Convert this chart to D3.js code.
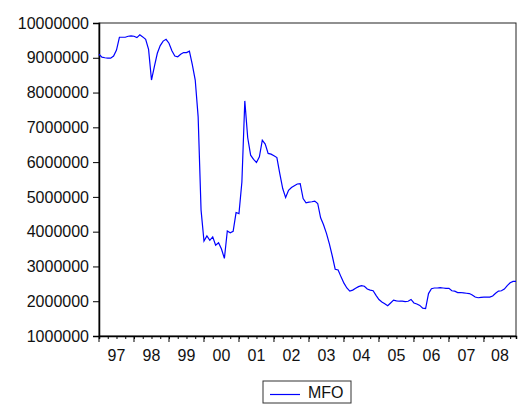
<!DOCTYPE html>
<html>
<head>
<meta charset="utf-8">
<script src="https://cdn.jsdelivr.net/npm/d3@7"></script>
<style>
  body { margin: 0; background: #fff; }
  text { font-family: "Liberation Sans", Arial, sans-serif; }
</style>
</head>
<body>
<div id="chart"></div>
<script>
// monthly MFO, 1997M01 - 2008M12 (millions)
var startYear = 1997;
var seriesName = "MFO";
var mfo = [
    9.10, 9.02, 9.00, 8.99, 8.99, 9.05, 9.22, 9.59, 9.59, 9.59, 9.62, 9.63,
    9.62, 9.58, 9.66, 9.60, 9.53, 9.24, 8.36, 8.75, 9.13, 9.35, 9.48, 9.53,
    9.42, 9.20, 9.05, 9.03, 9.10, 9.15, 9.15, 9.19, 8.80, 8.36, 7.30, 4.62,
    3.73, 3.88, 3.75, 3.85, 3.61, 3.68, 3.50, 3.23, 4.02, 3.97, 4.01, 4.55,
    4.52, 5.43, 7.76, 6.70, 6.20, 6.08, 5.99, 6.15, 6.63, 6.52, 6.25, 6.23,
    6.18, 6.13, 5.67, 5.24, 4.98, 5.19, 5.27, 5.32, 5.37, 5.38, 4.95, 4.83,
    4.85, 4.86, 4.88, 4.81, 4.40, 4.20, 3.95, 3.65, 3.30, 2.92, 2.90, 2.70,
    2.52, 2.38, 2.29, 2.32, 2.37, 2.42, 2.45, 2.43, 2.35, 2.32, 2.30, 2.17,
    2.05, 1.98, 1.93, 1.87, 1.95, 2.03, 2.01, 2.00, 2.00, 1.99, 2.00, 2.05,
    1.95, 1.92, 1.88, 1.80, 1.79, 2.22, 2.36, 2.38, 2.38, 2.39, 2.38, 2.37,
    2.37, 2.30, 2.29, 2.25, 2.25, 2.24, 2.23, 2.22, 2.18, 2.12, 2.10, 2.11,
    2.12, 2.12, 2.12, 2.15, 2.23, 2.29, 2.30, 2.35, 2.45, 2.53, 2.57, 2.57
].map(function(v) { return v * 1e6; });
var yTicks = [1000000, 2000000, 3000000, 4000000, 5000000,
    6000000, 7000000, 8000000, 9000000, 10000000];
var yearLabels = ["97", "98", "99", "00", "01", "02", "03", "04", "05", "06", "07", "08"];

var margin = {top: 23, right: 2, bottom: 76, left: 99};
var width = 518 - margin.left - margin.right,
    height = 412 - margin.top - margin.bottom;

var svg = d3.select("#chart").append("svg")
    .attr("width", 518)
    .attr("height", 412);

var g = svg.append("g")
    .attr("transform", "translate(" + margin.left + "," + margin.top + ")");

var x = d3.scaleLinear()
    .domain([0, mfo.length - 1])
    .range([0, width]);

var y = d3.scaleLinear()
    .domain([1000000, 10000000])
    .range([height, 0]);

// frame (top and right)
g.append("rect")
    .attr("x", 0).attr("y", 0)
    .attr("width", width).attr("height", height)
    .attr("fill", "none")
    .attr("stroke", "#222")
    .attr("stroke-width", 1);

// y axis
var yAxis = d3.axisLeft(y)
    .tickValues(yTicks)
    .tickSize(6)
    .tickPadding(4)
    .tickFormat(d3.format("d"));

var yG = g.append("g").call(yAxis);
yG.select(".domain").attr("stroke", "#000").attr("stroke-width", 1.5);
yG.selectAll("text").attr("font-size", "16px").attr("fill", "#111")
    .attr("font-family", "Liberation Sans, Arial, sans-serif");

// x axis: quarterly minor ticks, yearly major ticks
var quarters = d3.range(0, mfo.length, 3);
var xAxis = d3.axisBottom(x)
    .tickValues(quarters)
    .tickSize(3)
    .tickFormat("");

var xG = g.append("g")
    .attr("transform", "translate(0," + height + ")")
    .call(xAxis);
xG.select(".domain").attr("stroke", "#000").attr("stroke-width", 1.5);

var yearStarts = d3.range(0, mfo.length, 12);
xG.selectAll("line.major")
    .data(yearStarts)
    .enter()
    .append("line")
    .attr("class", "major")
    .attr("x1", function(d) { return x(d); })
    .attr("x2", function(d) { return x(d); })
    .attr("y1", 0)
    .attr("y2", 6)
    .attr("stroke", "#000");

xG.selectAll("text.year")
    .data(yearLabels)
    .enter()
    .append("text")
    .attr("class", "year")
    .attr("x", function(d, i) { return (x(i * 12) + x(Math.min(i * 12 + 12, mfo.length - 1) )) / 2; })
    .attr("y", 25)
    .attr("text-anchor", "middle")
    .attr("font-size", "16px")
    .attr("fill", "#111")
    .text(function(d) { return d; });

// series line
var line = d3.line()
    .x(function(d, i) { return x(i); })
    .y(function(d) { return y(d); });

g.append("path")
    .datum(mfo)
    .attr("d", line)
    .attr("fill", "none")
    .attr("stroke", "#0000ff")
    .attr("stroke-width", 1.2);

// legend
var legend = svg.append("g")
    .attr("transform", "translate(263,381)");

legend.append("rect")
    .attr("width", 88)
    .attr("height", 22)
    .attr("fill", "#fff")
    .attr("stroke", "#333")
    .attr("stroke-width", 1);

legend.append("line")
    .attr("x1", 7).attr("x2", 37)
    .attr("y1", 13.5).attr("y2", 13.5)
    .attr("stroke", "#0000ff")
    .attr("stroke-width", 1.2);

legend.append("text")
    .attr("x", 45)
    .attr("y", 17)
    .attr("font-size", "16px")
    .attr("fill", "#111")
    .text(seriesName);
</script>
</body>
</html>
